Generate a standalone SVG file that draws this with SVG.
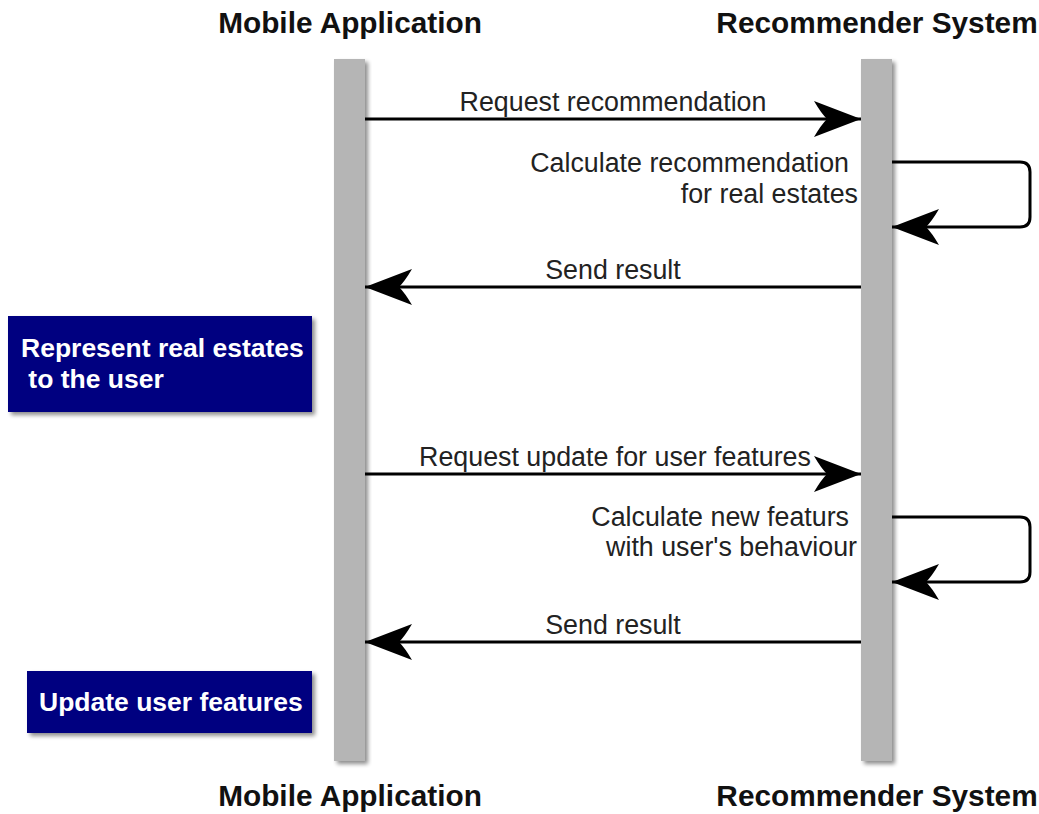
<svg xmlns="http://www.w3.org/2000/svg" width="1039" height="814" viewBox="0 0 1039 814">
  <style>
    .title { font-family: "Liberation Sans", Arial, sans-serif; font-weight: bold; font-size: 29.8px; fill: #111; text-anchor: middle; }
    .label { font-family: "Liberation Sans", Arial, sans-serif; font-size: 26.8px; fill: #222; }
    .mid { text-anchor: middle; }
    .end { text-anchor: end; }
    .boxtext { font-family: "Liberation Sans", Arial, sans-serif; font-weight: bold; font-size: 26.5px; fill: #ffffff; white-space: pre; }
    .lifeline { fill: #b5b5b5; }
    .msg { stroke: #000; stroke-width: 3; fill: none; }
    .box { fill: #000080; }
  </style>
  <defs>
    <filter id="shadow" x="-10%" y="-10%" width="130%" height="140%">
      <feGaussianBlur in="SourceAlpha" stdDeviation="2"/>
      <feOffset dx="3" dy="3" result="off"/>
      <feComponentTransfer><feFuncA type="linear" slope="0.45"/></feComponentTransfer>
      <feMerge><feMergeNode/><feMergeNode in="SourceGraphic"/></feMerge>
    </filter>
    <marker id="head" markerUnits="userSpaceOnUse" markerWidth="50" markerHeight="40" viewBox="-48 -20 50 40" refX="0" refY="0" orient="auto">
      <path d="M0,0 L-47,-18 Q-40,-6 -34,0 Q-40,6 -47,18 Z" fill="#000"/>
    </marker>
  </defs>

  <rect width="1039" height="814" fill="#ffffff"/>

  <!-- participant headers -->
  <g id="mobile-app-top"><text class="title" x="350" y="33">Mobile Application</text></g>
  <g id="recommender-top"><text class="title" x="877" y="33">Recommender System</text></g>
  <g id="mobile-app-bottom"><text class="title" x="350" y="806">Mobile Application</text></g>
  <g id="recommender-bottom"><text class="title" x="877" y="806">Recommender System</text></g>

  <!-- lifelines -->
  <g id="lifeline-mobile"><rect class="lifeline" x="334" y="59" width="31" height="702" filter="url(#shadow)"/></g>
  <g id="lifeline-recommender"><rect class="lifeline" x="861" y="59" width="31" height="702" filter="url(#shadow)"/></g>

  <!-- activity notes -->
  <g id="represent-estates">
    <rect class="box" x="8" y="316" width="304" height="96" filter="url(#shadow)"/>
    <text class="boxtext" x="21" y="357">Represent real estates</text>
    <text class="boxtext" x="21" y="388"> to the user</text>
  </g>
  <g id="update-features">
    <rect class="box" x="27" y="671" width="285" height="62" filter="url(#shadow)"/>
    <text class="boxtext" x="39" y="711">Update user features</text>
  </g>

  <!-- messages -->
  <g id="connectors">
    <line class="msg" x1="365" y1="119" x2="861" y2="119" marker-end="url(#head)"/>
    <path class="msg" d="M892,162 H1020 Q1030,162 1030,172 V217 Q1030,227 1020,227 H892" marker-end="url(#head)"/>
    <line class="msg" x1="861" y1="287" x2="365" y2="287" marker-end="url(#head)"/>

    <line class="msg" x1="365" y1="474" x2="861" y2="474" marker-end="url(#head)"/>
    <path class="msg" d="M892,517 H1020 Q1030,517 1030,527 V572 Q1030,582 1020,582 H892" marker-end="url(#head)"/>
    <line class="msg" x1="861" y1="642" x2="365" y2="642" marker-end="url(#head)"/>
  </g>

  <!-- message labels -->
  <g id="labels">
    <text class="label mid" x="613" y="111">Request recommendation</text>
    <text class="label end" x="849" y="172">Calculate recommendation</text>
    <text class="label end" x="858" y="203">for real estates</text>
    <text class="label mid" x="613" y="279">Send result</text>

    <text class="label mid" x="615" y="466">Request update for user features</text>
    <text class="label end" x="849" y="526">Calculate new featurs</text>
    <text class="label end" x="857" y="556">with user's behaviour</text>
    <text class="label mid" x="613" y="634">Send result</text>
  </g>
</svg>
